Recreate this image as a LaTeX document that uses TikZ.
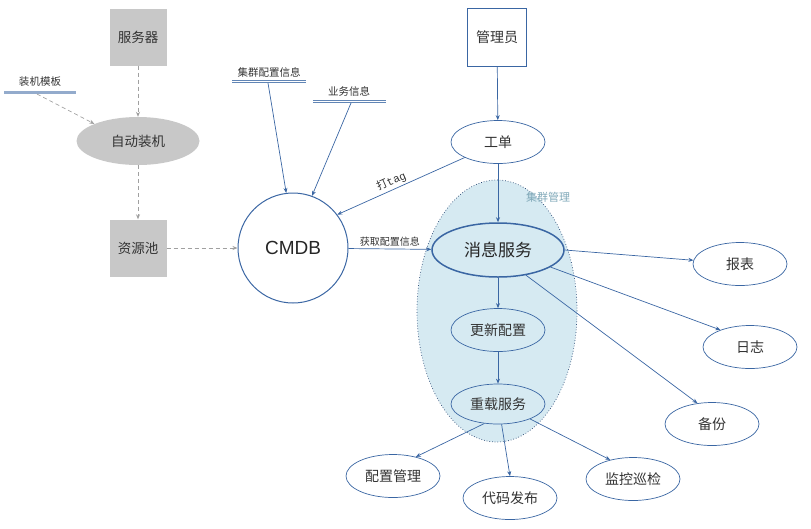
\documentclass[tikz,border=0pt]{standalone}
\usepackage{fontspec}
\setmainfont{Liberation Sans}
\newfontfamily\cjk{Noto Sans CJK SC}
\newfontfamily\monof{Liberation Mono}
\usetikzlibrary{shapes.geometric,arrows.meta}
\definecolor{lnblue}{HTML}{3A66A3}
\definecolor{grayfill}{HTML}{C8C8C8}
\definecolor{grayline}{HTML}{A0A0A0}
\definecolor{clfill}{HTML}{D6EAF2}
\definecolor{cltext}{HTML}{7FA8B8}
\definecolor{txt}{HTML}{333333}
\tikzset{
  graybox/.style={fill=grayfill, draw=none, minimum width=57pt, minimum height=57pt, inner sep=0pt, font=\cjk\fontsize{13.5}{13.5}\selectfont, text=txt},
  grayell/.style={ellipse, fill=grayfill, draw=none, minimum width=123pt, minimum height=48pt, inner sep=0pt, font=\cjk\fontsize{13.5}{13.5}\selectfont, text=txt},
  bell/.style={ellipse, draw=lnblue, line width=0.7pt, fill=white, minimum width=94pt, minimum height=43pt, inner sep=0pt, font=\cjk\fontsize{14}{14}\selectfont, text=txt},
  cell/.style={bell, fill=clfill},
  garr/.style={draw=grayline, dashed, dash pattern=on 4pt off 3pt, line width=0.7pt, -{Stealth[length=5pt,width=4pt]}},
  barr/.style={draw=lnblue, line width=0.7pt, -{Stealth[length=5pt,width=4pt]}},
  smalltxt/.style={font=\cjk\fontsize{10.5}{10.5}\selectfont, text=txt, inner sep=1pt},
  dline/.style={draw=lnblue!80, double=white, double distance=1.2pt, line width=0.6pt},
}
\begin{document}
\begin{tikzpicture}[x=1pt,y=-1pt]
\useasboundingbox (0,0) rectangle (811,528);
% cluster region
\node[ellipse, draw=lnblue!70!black, dotted, line width=0.7pt, fill=clfill, minimum width=160pt, minimum height=262pt, inner sep=0pt] (cluster) at (497,311) {};
\node[font=\cjk\fontsize{11}{11}\selectfont, text=cltext] (cltxt) at (548,197) {集群管理};

% left gray part
\node[graybox] (server) at (138,37) {服务器};
\node[grayell] (auto) at (138,141) {自动装机};
\node[graybox] (pool) at (138,248) {资源池};
\node[smalltxt] (tpl) at (40,82) {装机模板};
\draw[draw=lnblue!55, line width=3pt] (4,92) -- (76,92);
\coordinate (tplc) at (37,94);

\draw[garr] (server) -- (auto);
\draw[garr] (tplc) -- (auto.north west);
\draw[garr] (auto) -- (pool);

% CMDB
\node[circle, draw=lnblue, line width=1pt, minimum size=110pt, inner sep=0pt, font=\fontsize{19}{19}\selectfont, text=black!85] (cmdb) at (293,248) {CMDB};
\draw[garr] (pool) -- (cmdb);

\node[smalltxt] (clinfo) at (269,72) {集群配置信息};
\draw[dline] (232,81.5) -- (306,81.5);
\coordinate (clc) at (268,83);
\node[smalltxt] (biz) at (349,91) {业务信息};
\draw[dline] (313,101.5) -- (386,101.5);
\coordinate (bizc) at (351,103);
\draw[barr] (clc) -- (cmdb.97);
\draw[barr] (bizc) -- (cmdb.70);

% admin
\node[draw=lnblue, line width=0.7pt, minimum width=59pt, minimum height=58pt, inner sep=0pt, font=\cjk\fontsize{14}{14}\selectfont, text=txt] (admin) at (497,37) {管理员};
\node[bell] (order) at (498,142) {工单};
\draw[barr] (admin) -- (order);
\draw[barr] (order.205) -- node[sloped, above, text=txt, inner sep=2pt, pos=0.55] {\cjk\fontsize{11}{11}\selectfont 打\monof tag} (cmdb.37);

% message service
\node[ellipse, draw=lnblue, line width=1.5pt, fill=clfill, minimum width=132pt, minimum height=54pt, inner sep=0pt, font=\cjk\fontsize{17}{17}\selectfont, text=black!85] (msg) at (498,250) {消息服务};
\draw[barr] (order) -- (msg);
\draw[barr] (cmdb) -- node[above, font=\cjk\fontsize{10}{10}\selectfont, text=txt, inner sep=2pt] {获取配置信息} (msg);

\node[cell] (upd) at (498,330) {更新配置};
\node[cell, minimum height=40pt] (reload) at (498,404) {重载服务};
\draw[barr] (msg) -- (upd);
\draw[barr] (upd) -- (reload);

% right outputs
\node[bell] (report) at (740,264) {报表};
\node[bell] (log) at (750,347) {日志};
\node[bell] (backup) at (712,424) {备份};
\draw[barr] (msg.east) -- (report);
\draw[barr] (msg.-18) -- (log.150);
\draw[barr] (msg.-42) -- (backup.125);

% bottom outputs
\node[bell] (cfgm) at (393,476) {配置管理};
\node[bell] (code) at (510,498) {代码发布};
\node[bell] (mon) at (633,479) {监控巡检};
\draw[barr] (reload.235) -- (cfgm.40);
\draw[barr] (reload.280) -- (code.north);
\draw[barr] (reload.-25) -- (mon.140);
\end{tikzpicture}
\end{document}
